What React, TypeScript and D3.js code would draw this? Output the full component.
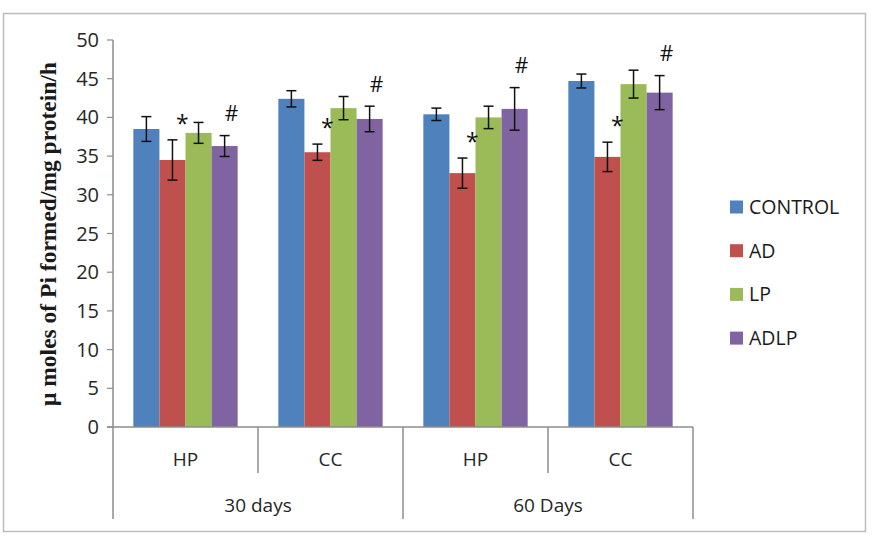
import * as d3 from "d3";

// groups on the x axis (period / tissue)
const periods = ["30 days", "60 Days"];
const tissues = ["HP", "CC"];
const series = ["CONTROL", "AD", "LP", "ADLP"];
const colors = ["#4F81BD", "#C0504D", "#9BBB59", "#8064A2"];

// values per series, in order 30d-HP, 30d-CC, 60d-HP, 60d-CC
const control = [38.5, 42.4, 40.4, 44.7];
const ad = [34.5, 35.5, 32.8, 34.9];
const lp = [38.0, 41.2, 40.0, 44.3];
const adlp = [36.3, 39.8, 41.1, 43.2];

const controlErr = [1.6, 1.05, 0.8, 0.9];
const adErr = [2.6, 1.05, 1.95, 1.9];
const lpErr = [1.35, 1.5, 1.45, 1.8];
const adlpErr = [1.35, 1.65, 2.75, 2.2];

const yTicks = [0, 5, 10, 15, 20, 25, 30, 35, 40, 45, 50];

const width = 875;
const height = 550;
const plot = { left: 113, right: 693, top: 40, bottom: 427 };

export default function App() {
  const values = [control, ad, lp, adlp];
  const errs = [controlErr, adErr, lpErr, adlpErr];
  const groups = periods.flatMap((p) => tissues.map((t) => `${p}|${t}`));

  const y = d3.scaleLinear().domain([0, 50]).range([plot.bottom, plot.top]);
  const x0 = d3
    .scaleBand()
    .domain(groups)
    .range([plot.left, plot.right])
    .paddingInner(0)
    .paddingOuter(0);
  const x1 = d3
    .scaleBand()
    .domain(series)
    .range([0, x0.bandwidth()])
    .paddingInner(0)
    .paddingOuter(0.78);
  const xp = d3.scaleBand().domain(periods).range([plot.left, plot.right]);

  const axisColor = "#8c8c8c";
  const sans = "'Open Sans', 'Liberation Sans', sans-serif";

  return (
    <svg
      width={width}
      height={height}
      style={{ position: "absolute", left: 0, top: 0, background: "#fff" }}
    >
      <rect x={3.5} y={13.5} width={862} height={518} fill="#fff" stroke="#bdbdbd" strokeWidth={1.5} />

      {/* y axis */}
      <line x1={plot.left} x2={plot.left} y1={plot.top} y2={519} stroke={axisColor} strokeWidth={1.5} />
      {yTicks.map((t) => (
        <g key={t}>
          <line x1={plot.left - 6} x2={plot.left} y1={y(t)} y2={y(t)} stroke={axisColor} strokeWidth={1.2} />
          <text
            x={plot.left - 14}
            y={y(t)}
            dy="0.35em"
            textAnchor="end"
            fontFamily={sans}
            fontSize={20}
            fill="#262626"
          >
            {t}
          </text>
        </g>
      ))}

      {/* bars */}
      {groups.map((g, gi) => (
        <g key={g} transform={`translate(${x0(g)},0)`}>
          {series.map((s, si) => (
            <rect
              key={s}
              x={x1(s)}
              y={y(values[si][gi])}
              width={x1.bandwidth()}
              height={y(0) - y(values[si][gi])}
              fill={colors[si]}
            />
          ))}
          {series.map((s, si) => {
            const cx = x1(s)! + x1.bandwidth() / 2;
            const v = values[si][gi];
            const e = errs[si][gi];
            return (
              <g key={s} stroke="#111" strokeWidth={1.5}>
                <line x1={cx} x2={cx} y1={y(v + e)} y2={y(v - e)} />
                <line x1={cx - 5} x2={cx + 5} y1={y(v + e)} y2={y(v + e)} />
                <line x1={cx - 5} x2={cx + 5} y1={y(v - e)} y2={y(v - e)} />
              </g>
            );
          })}
          {/* significance marks */}
          <text
            x={x1("AD")! + x1.bandwidth() / 2 + 10}
            y={y(values[1][gi] + errs[1][gi] + 2.8)}
            dy="0.6em"
            textAnchor="middle"
            fontFamily={sans}
            fontSize={23}
            fill="#111"
          >
            *
          </text>
          <text
            x={x1("ADLP")! + x1.bandwidth() / 2 + 7}
            y={y(values[3][gi] + errs[3][gi] + 2.8)}
            dy="0.35em"
            textAnchor="middle"
            fontFamily={sans}
            fontSize={21}
            fill="#111"
          >
            #
          </text>
        </g>
      ))}

      {/* x axis */}
      <line x1={plot.left - 6} x2={plot.right} y1={plot.bottom} y2={plot.bottom} stroke={axisColor} strokeWidth={1.5} />
      {groups.map((g, gi) => (
        <g key={g}>
          <line
            x1={x0(g)! + x0.bandwidth()}
            x2={x0(g)! + x0.bandwidth()}
            y1={plot.bottom}
            y2={gi % 2 === 1 ? 519 : 473}
            stroke={axisColor}
            strokeWidth={1.5}
          />
          <text
            x={x0(g)! + x0.bandwidth() / 2}
            y={459}
            dy="0.35em"
            textAnchor="middle"
            fontFamily={sans}
            fontSize={19}
            fill="#262626"
          >
            {g.split("|")[1]}
          </text>
        </g>
      ))}
      {periods.map((p) => (
        <text
          key={p}
          x={xp(p)! + xp.bandwidth() / 2}
          y={505}
          dy="0.35em"
          textAnchor="middle"
          fontFamily={sans}
          fontSize={19}
          fill="#262626"
        >
          {p}
        </text>
      ))}

      {/* y label */}
      <text
        transform={`translate(48,${(60 + 408) / 2}) rotate(-90)`}
        textAnchor="middle"
        dy="0.35em"
        fontFamily="'Liberation Serif', 'Times New Roman', serif"
        fontWeight="bold"
        fontSize={23.5}
        fill="#1a1a1a"
      >
        μ moles of Pi formed/mg protein/h
      </text>

      {/* legend */}
      {series.map((s, i) => (
        <g key={s} transform={`translate(730,${207 + i * 43.7})`}>
          <rect x={0} y={-6.5} width={13} height={13} fill={colors[i]} />
          <text x={19} y={0} dy="0.35em" fontFamily={sans} fontSize={19.5} fill="#1a1a1a">
            {s}
          </text>
        </g>
      ))}
    </svg>
  );
}
